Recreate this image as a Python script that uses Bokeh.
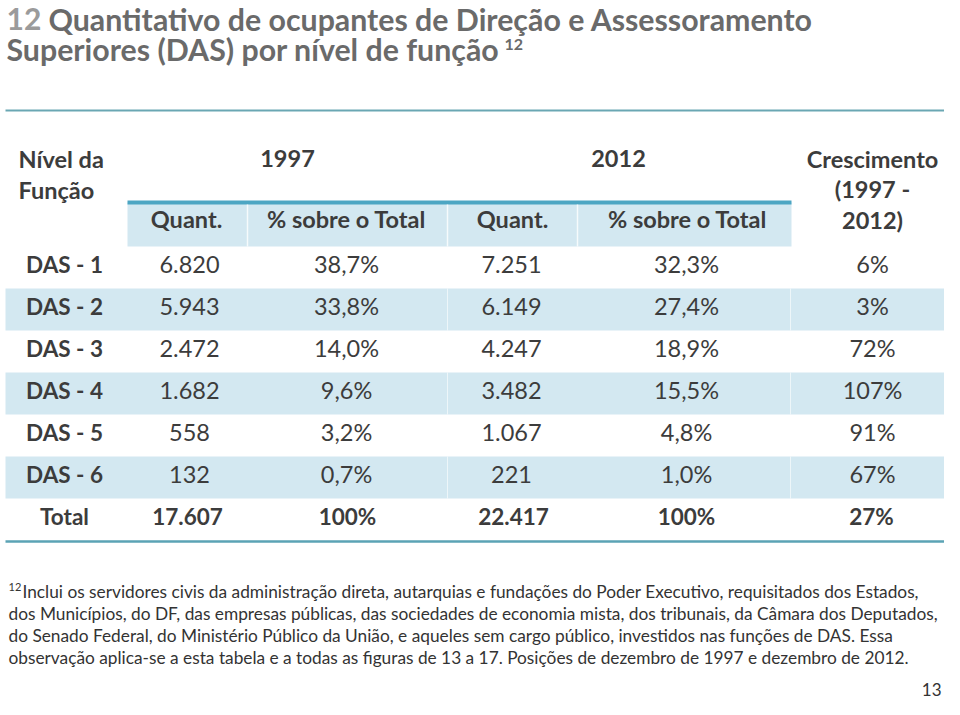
from bokeh.plotting import figure
from bokeh.models import Range1d, ColumnDataSource
from bokeh.core.properties import value
from bokeh.embed import file_html
from bokeh.resources import INLINE

# ---------------- data ----------------
table_number = "12"
title_line1 = "Quantitativo de ocupantes de Direção e Assessoramento"
title_line2 = "Superiores (DAS) por nível de função"
footnote_ref = "12"

levels = ["DAS - 1", "DAS - 2", "DAS - 3", "DAS - 4", "DAS - 5", "DAS - 6"]
quant_1997 = [6820, 5943, 2472, 1682, 558, 132]
pct_1997 = [38.7, 33.8, 14.0, 9.6, 3.2, 0.7]
quant_2012 = [7251, 6149, 4247, 3482, 1067, 221]
pct_2012 = [32.3, 27.4, 18.9, 15.5, 4.8, 1.0]
growth = [6, 3, 72, 107, 91, 67]
total_label = "Total"
total_1997 = 17607
total_2012 = 22417
total_pct = "100%"
total_growth = 27

footnote_lines = [
    "Inclui os servidores civis da administração direta, autarquias e fundações do Poder Executivo, requisitados dos Estados,",
    "dos Municípios, do DF, das empresas públicas, das sociedades de economia mista, dos tribunais, da Câmara dos Deputados,",
    "do Senado Federal, do Ministério Público da União, e aqueles sem cargo público, investidos nas funções de DAS. Essa",
    "observação aplica-se a esta tabela e a todas as figuras de 13 a 17. Posições de dezembro de 1997 e dezembro de 2012.",
]
page_number = "13"


def fmt_int(n):
    return f"{n:,}".replace(",", ".")


def fmt_pct(v):
    return f"{v:.1f}%".replace(".", ",")


# ---------------- figure ----------------
W, H = 944, 699
p = figure(width=W, height=H, x_range=Range1d(0, W), y_range=Range1d(H, 0),
           output_backend="svg", toolbar_location=None, min_border=0,
           x_axis_type=None, y_axis_type=None, outline_line_color=None,
           background_fill_color="white", border_fill_color="white")
p.grid.visible = False

FONT = "Lato"
DARK = "#3c3c3c"
BAND = "#d3e8f1"
TEAL = "#4ca6c3"


def txt(x, y, s, size, color=DARK, bold=False, align="left"):
    p.text(x=[x], y=[y], text=[s], text_font=value(FONT), text_font_size=f"{size}px",
           text_color=color, text_font_style="bold" if bold else "normal",
           text_align=align, text_baseline="middle")


# title
txt(6, 18, table_number, 30, "#9b9b9b", bold=True)
txt(48, 18, title_line1, 30.3, "#6a6a6a", bold=True)
txt(6, 48, title_line2, 30.3, "#6a6a6a", bold=True)
txt(504, 44, table_number, 16, "#6a6a6a", bold=True)

# top rule
p.line(x=[5, 955], y=[110, 110], line_color="#6aa7b3", line_width=2)

# header band
p.quad(left=[127], right=[791], top=[202], bottom=[246], fill_color=BAND, line_color=None)
p.quad(left=[127], right=[791], top=[200], bottom=[204], fill_color=TEAL, line_color=None)
p.segment(x0=[247, 447, 577], y0=[204] * 3, x1=[247, 447, 577], y1=[246] * 3,
          line_color="white", line_width=1.5, line_alpha=0.8)

# rows
ROW_TOP, ROW_H = 246, 42
n = len(levels)
row_center = [ROW_TOP + ROW_H * (i + 0.5) for i in range(n + 1)]
band_idx = [i for i in range(n) if i % 2 == 1]
p.quad(left=[5] * len(band_idx), right=[955] * len(band_idx),
       top=[ROW_TOP + ROW_H * i for i in band_idx],
       bottom=[ROW_TOP + ROW_H * (i + 1) for i in band_idx],
       fill_color=BAND, line_color=None)
for xs in (447, 790):
    p.segment(x0=[xs] * len(band_idx), y0=[ROW_TOP + ROW_H * i for i in band_idx],
              x1=[xs] * len(band_idx), y1=[ROW_TOP + ROW_H * (i + 1) for i in band_idx],
              line_color="white", line_width=1, line_alpha=0.6)

# bottom rule
p.line(x=[5, 955], y=[541, 541], line_color="#5ba3b5", line_width=2.5)

# header texts
HS = 23.5
txt(18, 158, "Nível da", HS, bold=True)
txt(18, 189, "Função", HS, bold=True)
txt(287, 158, "1997", HS, bold=True, align="center")
txt(618, 158, "2012", HS, bold=True, align="center")
txt(872, 158, "Crescimento", HS, bold=True, align="center")
txt(872, 188, "(1997 -", HS, bold=True, align="center")
txt(872, 219, "2012)", HS, bold=True, align="center")
for xc, s in [(186, "Quant."), (346, "% sobre o Total"), (512, "Quant."), (687, "% sobre o Total")]:
    txt(xc, 218, s, HS, bold=True, align="center")

# body texts
BS = 23.5
ty = [c - 3.5 for c in row_center[:n]]
src = ColumnDataSource(dict(
    y=ty, lvl=levels,
    q97=[fmt_int(v) for v in quant_1997], p97=[fmt_pct(v) for v in pct_1997],
    q12=[fmt_int(v) for v in quant_2012], p12=[fmt_pct(v) for v in pct_2012],
    g=[f"{v}%" for v in growth],
))
cols = [(64, "lvl", "bold", 22.5), (189, "q97", "normal", BS), (346, "p97", "normal", BS),
        (511, "q12", "normal", BS), (686, "p12", "normal", BS), (872, "g", "normal", BS)]
for xc, field, style, sz in cols:
    p.text(x=xc, y="y", text=field, source=src, text_font=value(FONT),
           text_font_size=f"{sz}px", text_color=DARK, text_font_style=style,
           text_align="center", text_baseline="middle")

yt = row_center[n] - 3.5
for xc, s in [(64, total_label), (187, fmt_int(total_1997)), (347, total_pct),
              (513, fmt_int(total_2012)), (686, total_pct), (871, f"{total_growth}%")]:
    txt(xc, yt, s, 22.5, bold=True, align="center")

# footnote
FS = 17.3
txt(8, 586, footnote_ref, 11, "#333333")
txt(22, 591, footnote_lines[0], FS, "#333333")
for k, line in enumerate(footnote_lines[1:], start=1):
    txt(8, 591 + 22 * k, line, FS, "#333333")

txt(941, 689, page_number, 17, "#333333", align="right")

open("out.html", "w").write(file_html(p, INLINE))
